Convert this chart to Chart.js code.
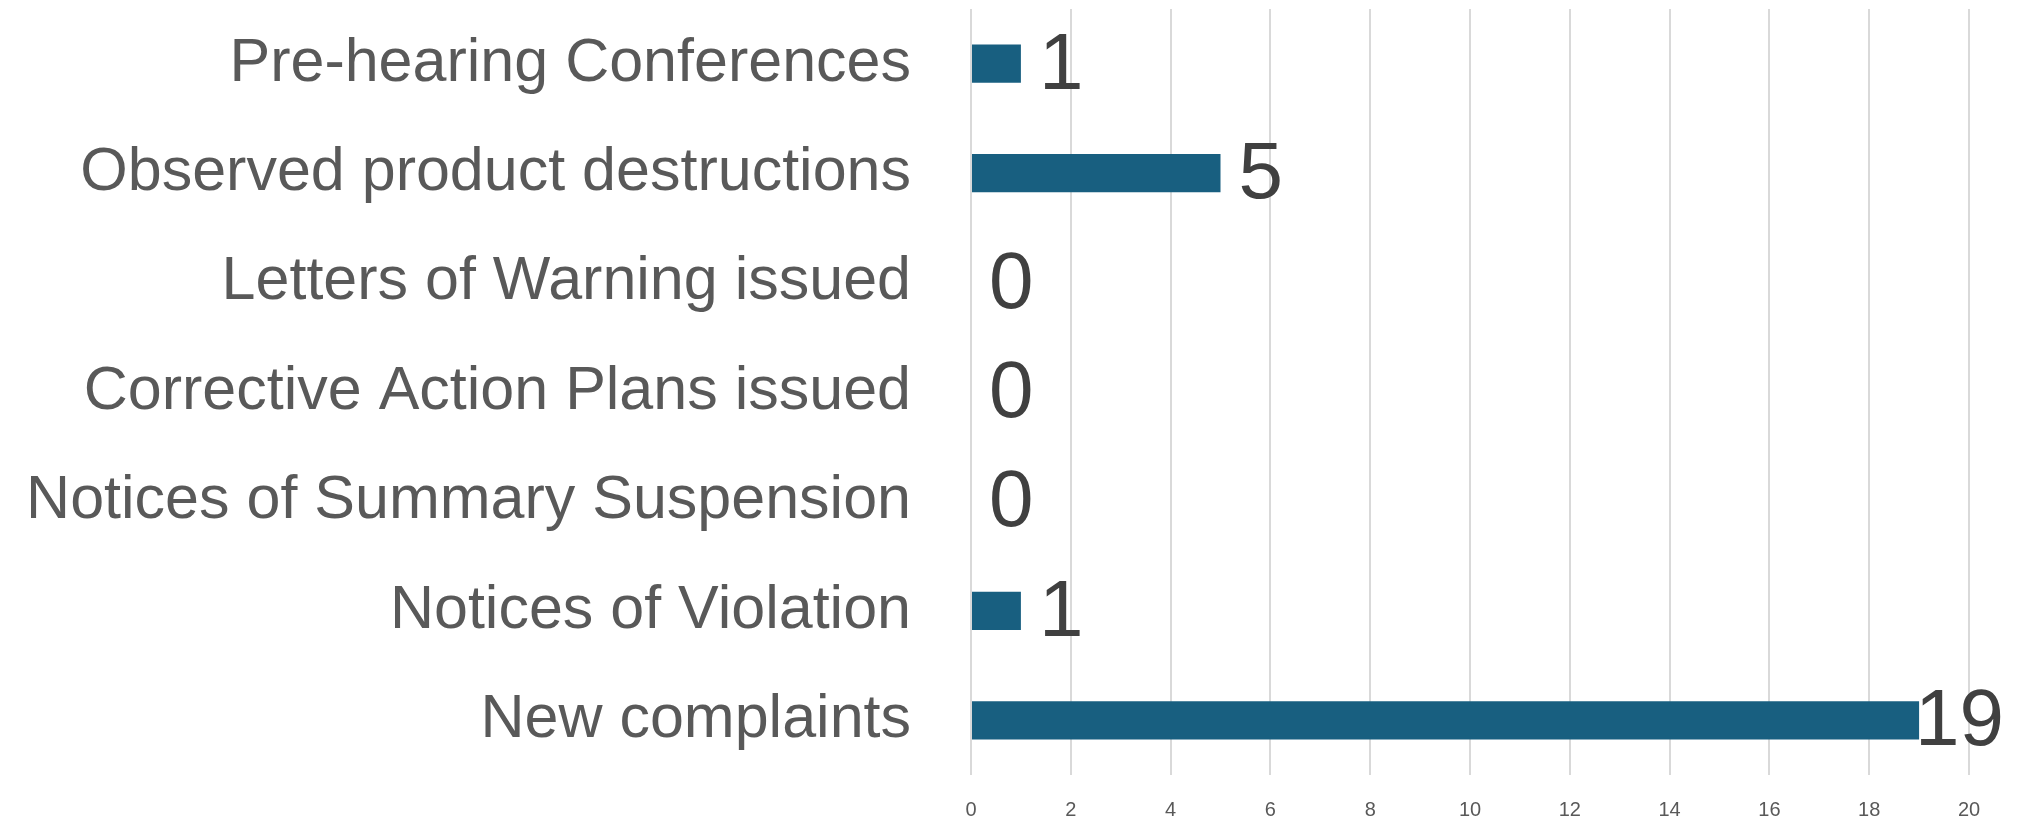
<!DOCTYPE html>
<html>
<head>
<meta charset="utf-8">
<script src="https://cdn.jsdelivr.net/npm/chart.js@4/dist/chart.umd.min.js"></script>
<style>
  html, body { margin: 0; padding: 0; background: #fff; }
  #wrap { width: 2018px; height: 819px; position: relative; }
</style>
</head>
<body>
<div id="wrap"><canvas id="chart"></canvas></div>
<script>
var categories = [
    "Pre-hearing Conferences",
    "Observed product destructions",
    "Letters of Warning issued",
    "Corrective Action Plans issued",
    "Notices of Summary Suspension",
    "Notices of Violation",
    "New complaints"
];
var counts = [1, 5, 0, 0, 0, 1, 19];
var xMin = 0;
var xMax = 20;
var xStep = 2;

// value labels next to each bar
var barLabels = {
    id: "barLabels",
    afterDatasetsDraw: function(chart) {
        var ctx = chart.ctx;
        var meta = chart.getDatasetMeta(0);
        ctx.save();
        ctx.font = "80px 'Liberation Sans', Arial, sans-serif";
        ctx.fillStyle = "#404040";
        ctx.textBaseline = "middle";
        ctx.textAlign = "left";
        meta.data.forEach(function(bar, i) {
            var txt = String(counts[i]);
            var w = ctx.measureText(txt).width;
            var x = bar.x + 18;
            if (x + w > chart.width - 14) x = chart.width - 14 - w;
            ctx.fillText(txt, x, bar.y + 3);
        });
        ctx.restore();
    }
};

var ctx = document.getElementById("chart").getContext("2d");
var chart = new Chart(ctx, {
    type: "bar",
    data: {
        labels: categories,
        datasets: [{
            data: counts,
            backgroundColor: "#185f80",
            barPercentage: 0.35,
            categoryPercentage: 1.0
        }]
    },
    options: {
        indexAxis: "y",
        responsive: true,
        maintainAspectRatio: false,
        animation: false,
        layout: { padding: { top: 9, right: 49, left: 0, bottom: 0 } },
        plugins: {
            legend: { display: false },
            tooltip: { enabled: false }
        },
        scales: {
            x: {
                min: xMin,
                max: xMax,
                ticks: {
                    stepSize: xStep,
                    padding: 23,
                    color: "#595959",
                    font: { family: "'Liberation Sans', Arial, sans-serif", size: 20 }
                },
                grid: { color: "#d9d9d9", lineWidth: 2, drawTicks: false },
                border: { display: false },
                afterFit: function(scale) { scale.height = 44; }
            },
            y: {
                ticks: {
                    padding: 60,
                    color: "#595959",
                    font: { family: "'Liberation Sans', Arial, sans-serif", size: 61 }
                },
                grid: { display: false, drawTicks: false },
                border: { display: false },
                afterFit: function(scale) {
                    scale.width = 971;
                    scale.paddingTop = 0;
                    scale.paddingBottom = 0;
                }
            }
        }
    },
    plugins: [barLabels]
});
</script>
</body>
</html>
